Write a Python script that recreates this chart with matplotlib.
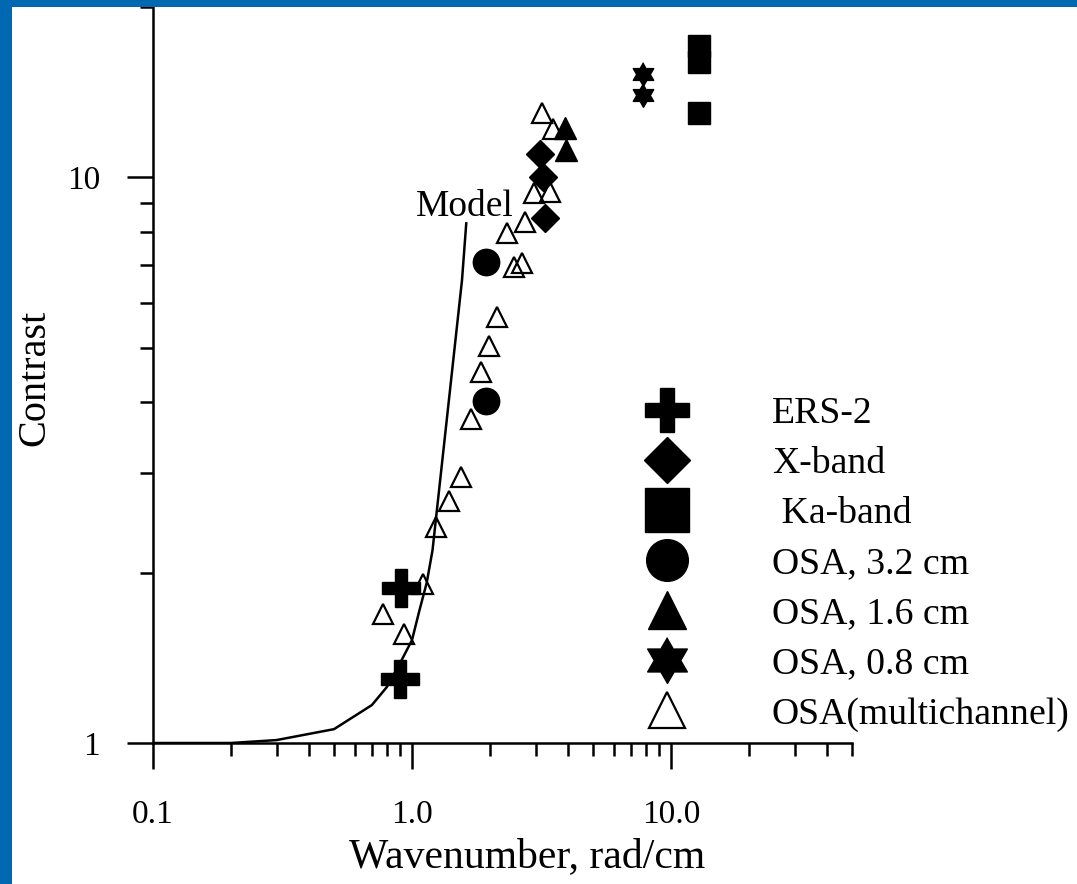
import numpy as np
import matplotlib.pyplot as plt
from matplotlib.lines import Line2D
from matplotlib.patches import Rectangle
from matplotlib.ticker import FixedLocator, FixedFormatter, LogLocator, NullFormatter

plt.rcParams['font.family'] = 'Liberation Serif'

# model contrast curve
model_k = [0.1, 0.2, 0.3, 0.5, 0.7, 0.8, 0.9, 1.0, 1.07, 1.14, 1.2, 1.56, 1.62]
model_c = [1.0, 1.0, 1.012, 1.058, 1.167, 1.256, 1.385, 1.52, 1.72, 1.92, 2.19, 6.58, 8.29]

# measurements
ers2_k = [0.91, 0.90]
ers2_c = [1.88, 1.30]

xband_k = [3.12, 3.2, 3.26]
xband_c = [11.0, 10.0, 8.47]

ka_k = [12.8, 12.8, 12.8]
ka_c = [17.05, 16.0, 13.0]

osa32_k = [1.93, 1.93]
osa32_c = [7.07, 4.02]

osa16_k = [3.90, 3.93]
osa16_c = [12.2, 11.17]

osa08_k = [7.8, 7.8]
osa08_c = [15.2, 13.96]

multi_k = [3.18, 3.50, 2.96, 3.41, 2.73, 2.33, 2.48, 2.66, 2.13, 1.98,
           1.85, 1.69, 1.55, 1.39, 1.24, 1.10, 0.773, 0.931]
multi_c = [13.0, 12.16, 9.37, 9.41, 8.33, 7.96, 6.93, 7.05, 5.66, 5.03,
           4.52, 3.74, 2.95, 2.68, 2.41, 1.91, 1.69, 1.56]

# six-pointed star marker
ang = np.pi / 2 + np.arange(12) * np.pi / 6
rad = np.where(np.arange(12) % 2 == 0, 1.0, 1 / np.sqrt(3))
hexagram = np.column_stack([rad * np.cos(ang), rad * np.sin(ang)])

fig = plt.figure(figsize=(10.77, 8.84), dpi=100)
ax = fig.add_axes([153 / 1077, 141 / 884, 699 / 1077, 736 / 884])

ax.plot(model_k, model_c, color='black', lw=1.8, zorder=3)
ax.text(1.6, 8.55, 'Model', fontsize=27, ha='center', va='baseline')

ax.plot(multi_k, multi_c, ls='none', marker='^', ms=15, mfc='none', mec='black', mew=1.6, zorder=2)
ax.plot(ers2_k, ers2_c, ls='none', marker='P', ms=27, color='black', zorder=2)
ax.plot(xband_k, xband_c, ls='none', marker='D', ms=14, color='black', zorder=2)
ax.plot(ka_k, ka_c, ls='none', marker='s', ms=15.5, color='black', zorder=2)
ax.plot(osa32_k, osa32_c, ls='none', marker='o', ms=19, color='black', zorder=2)
ax.plot(osa16_k, osa16_c, ls='none', marker='^', ms=16.5, color='black', zorder=2)
ax.plot(osa08_k, osa08_c, ls='none', marker=hexagram, ms=17, color='black', zorder=2)

ax.set_xscale('log')
ax.set_yscale('log')
ax.set_xlim(0.1, 50)
ax.set_ylim(1, 20)

ax.xaxis.set_major_locator(FixedLocator([0.1, 1, 10]))
ax.xaxis.set_major_formatter(FixedFormatter(['0.1', '1.0', '10.0']))
ax.xaxis.set_minor_locator(LogLocator(base=10, subs=np.arange(2, 10)))
ax.xaxis.set_minor_formatter(NullFormatter())
ax.yaxis.set_major_locator(FixedLocator([1, 10]))
ax.yaxis.set_major_formatter(FixedFormatter(['1', '10']))
ax.yaxis.set_minor_locator(LogLocator(base=10, subs=np.arange(2, 10)))
ax.yaxis.set_minor_formatter(NullFormatter())

for side in ['top', 'right']:
    ax.spines[side].set_visible(False)
for side in ['left', 'bottom']:
    ax.spines[side].set_linewidth(1.8)

ax.tick_params(which='major', direction='out', length=19, width=1.8, labelsize=24)
ax.tick_params(which='minor', direction='out', length=9.5, width=1.8)
ax.tick_params(axis='x', which='major', pad=22)
ax.tick_params(axis='y', which='major', pad=19)

ax.set_xlabel('Wavenumber, rad/cm', fontsize=30)
ax.xaxis.set_label_coords(0.535, -0.128)
ax.set_ylabel('Contrast', fontsize=29, va='center', ha='center')
ax.yaxis.set_label_coords(-0.169, 0.496)

handles = [
    Line2D([], [], ls='none', marker='P', ms=32, color='black'),
    Line2D([], [], ls='none', marker='D', ms=23, color='black'),
    Line2D([], [], ls='none', marker='s', ms=31, color='black'),
    Line2D([], [], ls='none', marker='o', ms=30, color='black'),
    Line2D([], [], ls='none', marker='^', ms=28, color='black'),
    Line2D([], [], ls='none', marker=hexagram, ms=33, color='black'),
    Line2D([], [], ls='none', marker='^', ms=26, mfc='white', mec='black', mew=1.6),
]
labels = ['ERS-2', 'X-band', ' Ka-band', 'OSA, 3.2 cm', 'OSA, 1.6 cm',
          'OSA, 0.8 cm', 'OSA(multichannel)']
fig.legend(handles, labels, loc='upper left', bbox_to_anchor=(629 / 1077, 1 - 397 / 884),
           frameon=False, fontsize=27.2, handlelength=2.0, handletextpad=1.78,
           borderpad=0, borderaxespad=0, labelspacing=0.41)

# blue frame strips
fig.add_artist(Rectangle((0, 0), 12 / 1077, 1, transform=fig.transFigure,
                         color='#0067B1', lw=0))
fig.add_artist(Rectangle((0, 1 - 7 / 884), 1, 7 / 884, transform=fig.transFigure,
                         color='#0067B1', lw=0))

fig.savefig('out.png', dpi=100)
